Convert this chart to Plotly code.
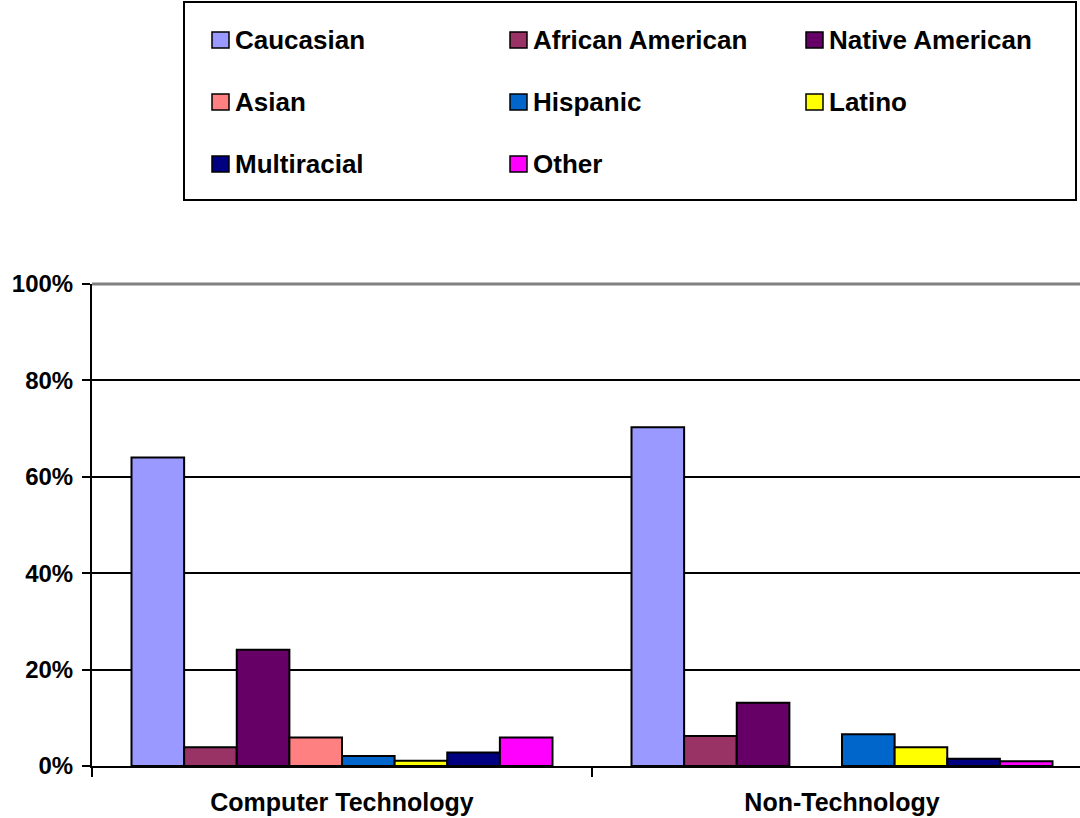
import plotly.graph_objects as go

# Survey share by ethnicity, two respondent groups
categories = ["Computer Technology", "Non-Technology"]
series_names = ["Caucasian", "African American", "Native American", "Asian",
                "Hispanic", "Latino", "Multiracial", "Other"]
computer_tech = [64.0, 3.9, 24.1, 5.9, 2.1, 1.1, 2.8, 5.9]
non_tech = [70.3, 6.2, 13.1, 0.0, 6.6, 3.9, 1.5, 1.0]
colors = ["#9999FF", "#993366", "#660066", "#FF8080",
          "#0066CC", "#FFFF00", "#000080", "#FF00FF"]
y_ticks = [0, 0.2, 0.4, 0.6, 0.8, 1.0]

W, H = 1080, 818
M_L, M_R, M_T, M_B = 92, 0, 284, 52
FONT = "Liberation Sans, Arial, sans-serif"


def share(v):
    # zero shares are left empty so no outline is drawn on the baseline
    return v / 100 if v > 0 else None


fig = go.Figure()
for i, name in enumerate(series_names):
    fig.add_trace(go.Bar(
        x=categories,
        y=[share(computer_tech[i]), share(non_tech[i])],
        name=name,
        marker=dict(color=colors[i], line=dict(color="black", width=2)),
        showlegend=False,
    ))

# pixel -> paper coordinate helpers for the legend box
pw = W - M_L - M_R
ph = H - M_T - M_B
def px_x(x):
    return (x - M_L) / pw
def px_y(y):
    return (H - M_B - y) / ph

shapes = [
    # top border of plot area in grey
    dict(type="line", xref="paper", yref="paper", x0=0, x1=1, y0=1, y1=1,
         line=dict(color="#808080", width=3), layer="above"),
    # legend frame
    dict(type="rect", xref="paper", yref="paper",
         x0=px_x(184), x1=px_x(1076), y0=px_y(2), y1=px_y(200),
         line=dict(color="black", width=2), fillcolor="white"),
]
annotations = []
col_x = [212, 510, 806]
row_y = [40, 102, 164]
for i, name in enumerate(series_names):
    cx = col_x[i % 3]
    cy = row_y[i // 3]
    shapes.append(dict(type="rect", xref="paper", yref="paper",
                       x0=px_x(cx), x1=px_x(cx + 17),
                       y0=px_y(cy - 8), y1=px_y(cy + 8),
                       line=dict(color="black", width=1.5), fillcolor=colors[i]))
    annotations.append(dict(xref="paper", yref="paper", x=px_x(cx + 21), y=px_y(cy),
                            xanchor="left", yanchor="middle", showarrow=False,
                            text=name,
                            font=dict(family=FONT, size=26, color="black", weight="bold")))

fig.update_layout(
    width=W, height=H,
    margin=dict(l=M_L, r=M_R, t=M_T, b=M_B, pad=0),
    paper_bgcolor="white", plot_bgcolor="white",
    barmode="group", bargap=0.158, bargroupgap=0,
    shapes=shapes, annotations=annotations,
    font=dict(family=FONT, size=24, color="black", weight="bold"),
)
fig.update_xaxes(
    range=[-0.5, 1.476], showgrid=False,
    showline=True, linecolor="black", linewidth=2,
    ticks="outside", ticklen=9, tickwidth=2, tickcolor="black",
    tickson="boundaries", ticklabelstandoff=13,
    tickfont=dict(family=FONT, size=25, color="black", weight="bold"),
)
fig.update_yaxes(
    range=[0, 1], tickvals=y_ticks, tickformat=".0%",
    showgrid=True, gridcolor="black", gridwidth=2, zeroline=False,
    showline=True, linecolor="black", linewidth=2,
    ticks="outside", ticklen=8, tickwidth=2, tickcolor="black",
    ticklabelstandoff=4,
    tickfont=dict(family=FONT, size=24, color="black", weight="bold"),
)

fig.write_html("out.html")
